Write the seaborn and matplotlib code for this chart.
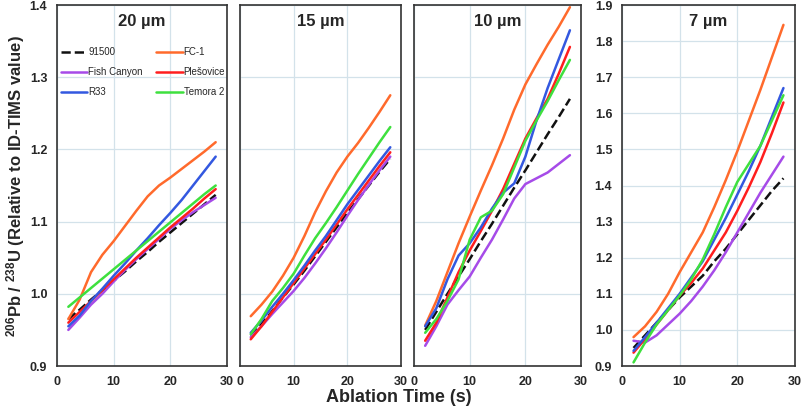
import matplotlib
matplotlib.use("Agg")
import matplotlib.pyplot as plt
import seaborn as sns
import pandas as pd

# Ablation time points (s)
time_s = [2, 4, 6, 8, 10, 12, 14, 16, 18, 20, 22, 24, 26, 28]

samples = ["91500", "FC-1", "Fish Canyon", "Plešovice", "R33", "Temora 2"]
panel_titles = ["20 µm", "15 µm", "10 µm", "7 µm"]

# 20 um spot
spot20_91500 = [0.965, 0.978, 0.992, 1.005, 1.018, 1.031, 1.045, 1.058, 1.072, 1.085, 1.098, 1.111, 1.124, 1.137]
spot20_fc1 = [0.965, 0.992, 1.030, 1.054, 1.073, 1.094, 1.115, 1.135, 1.150, 1.161, 1.173, 1.185, 1.197, 1.210]
spot20_fish = [0.950, 0.967, 0.985, 1.000, 1.017, 1.033, 1.048, 1.062, 1.076, 1.090, 1.102, 1.113, 1.123, 1.133]
spot20_ples = [0.960, 0.975, 0.990, 1.005, 1.020, 1.035, 1.050, 1.064, 1.078, 1.092, 1.105, 1.118, 1.132, 1.145]
spot20_r33 = [0.955, 0.970, 0.990, 1.007, 1.025, 1.042, 1.060, 1.077, 1.095, 1.112, 1.130, 1.150, 1.170, 1.190]
spot20_temora = [0.982, 0.995, 1.008, 1.021, 1.034, 1.047, 1.060, 1.073, 1.086, 1.099, 1.112, 1.125, 1.138, 1.150]

# 15 um spot
spot15_91500 = [0.942, 0.958, 0.976, 0.995, 1.013, 1.032, 1.052, 1.072, 1.092, 1.112, 1.131, 1.150, 1.169, 1.187]
spot15_fc1 = [0.969, 0.985, 1.003, 1.025, 1.050, 1.080, 1.113, 1.142, 1.168, 1.190, 1.209, 1.230, 1.252, 1.275]
spot15_fish = [0.940, 0.955, 0.972, 0.988, 1.004, 1.022, 1.042, 1.063, 1.085, 1.108, 1.130, 1.151, 1.171, 1.190]
spot15_ples = [0.937, 0.955, 0.975, 0.995, 1.015, 1.035, 1.055, 1.075, 1.096, 1.117, 1.137, 1.157, 1.177, 1.196]
spot15_r33 = [0.946, 0.963, 0.982, 1.000, 1.019, 1.039, 1.060, 1.080, 1.102, 1.124, 1.144, 1.164, 1.184, 1.203]
spot15_temora = [0.944, 0.965, 0.990, 1.008, 1.028, 1.053, 1.077, 1.098, 1.120, 1.143, 1.166, 1.188, 1.210, 1.231]

# 10 um spot
spot10_91500 = [0.950, 0.975, 1.000, 1.024, 1.048, 1.073, 1.097, 1.122, 1.147, 1.171, 1.196, 1.221, 1.245, 1.270]
spot10_fc1 = [0.956, 0.990, 1.030, 1.070, 1.107, 1.143, 1.178, 1.215, 1.255, 1.290, 1.318, 1.345, 1.370, 1.397]
spot10_fish = [0.928, 0.955, 0.985, 1.005, 1.024, 1.050, 1.075, 1.103, 1.132, 1.152, 1.160, 1.168, 1.180, 1.192]
spot10_ples = [0.935, 0.960, 0.995, 1.030, 1.060, 1.087, 1.115, 1.145, 1.180, 1.215, 1.243, 1.270, 1.305, 1.342]
spot10_r33 = [0.955, 0.980, 1.020, 1.053, 1.070, 1.092, 1.118, 1.140, 1.153, 1.190, 1.240, 1.285, 1.325, 1.365]
spot10_temora = [0.946, 0.965, 0.990, 1.020, 1.075, 1.106, 1.115, 1.138, 1.175, 1.212, 1.240, 1.267, 1.296, 1.324]

# 7 um spot
spot7_91500 = [0.950, 0.985, 1.020, 1.055, 1.090, 1.120, 1.150, 1.190, 1.225, 1.265, 1.305, 1.345, 1.385, 1.420]
spot7_fc1 = [0.980, 1.010, 1.050, 1.100, 1.160, 1.215, 1.270, 1.340, 1.415, 1.495, 1.580, 1.665, 1.755, 1.845]
spot7_fish = [0.970, 0.965, 0.985, 1.015, 1.045, 1.080, 1.120, 1.165, 1.215, 1.270, 1.325, 1.380, 1.430, 1.480]
spot7_ples = [0.937, 0.975, 1.015, 1.055, 1.095, 1.130, 1.170, 1.220, 1.270, 1.330, 1.395, 1.465, 1.545, 1.630]
spot7_r33 = [0.942, 0.980, 1.020, 1.060, 1.100, 1.145, 1.190, 1.250, 1.310, 1.375, 1.440, 1.510, 1.590, 1.670]
spot7_temora = [0.910, 0.965, 1.015, 1.055, 1.095, 1.140, 1.195, 1.265, 1.340, 1.410, 1.460, 1.510, 1.580, 1.650]

panel_data = [
    [spot20_91500, spot20_fc1, spot20_fish, spot20_ples, spot20_r33, spot20_temora],
    [spot15_91500, spot15_fc1, spot15_fish, spot15_ples, spot15_r33, spot15_temora],
    [spot10_91500, spot10_fc1, spot10_fish, spot10_ples, spot10_r33, spot10_temora],
    [spot7_91500, spot7_fc1, spot7_fish, spot7_ples, spot7_r33, spot7_temora],
]

colors = {
    "91500": "#111111",
    "FC-1": "#FF6A2C",
    "Fish Canyon": "#A64BE8",
    "Plešovice": "#FF1E1E",
    "R33": "#3358E0",
    "Temora 2": "#3EE03E",
}

sns.set_style("white")
plt.rcParams["font.family"] = ["Liberation Sans", "DejaVu Sans"]
plt.rcParams["mathtext.fontset"] = "custom"
plt.rcParams["mathtext.bf"] = "Liberation Sans:bold"
plt.rcParams["mathtext.rm"] = "Liberation Sans:bold"
plt.rcParams["mathtext.default"] = "bf"

fig = plt.figure(figsize=(8.03, 4.18), dpi=100)
bottom, height = 0.1244, 0.8636
positions = [
    [0.0710, bottom, 0.2117, height],
    [0.2989, bottom, 0.2005, height],
    [0.5156, bottom, 0.2080, height],
    [0.7746, bottom, 0.2154, height],
]
xlims = [(0, 30), (1.6, 30), (0.5, 30), (0, 30)]
ylims = [(0.9, 1.4), (0.9, 1.4), (0.9, 1.4), (0.9, 1.9)]

for i, pos in enumerate(positions):
    ax = fig.add_axes(pos, zorder=5 if i == 0 else 1)
    df = pd.DataFrame({"time": time_s * len(samples),
                       "ratio": sum(panel_data[i], []),
                       "sample": [s for s in samples for _ in time_s]})
    for s in samples:
        sub = df[df["sample"] == s]
        sns.lineplot(data=sub, x="time", y="ratio", ax=ax, color=colors[s],
                     linewidth=1.8, linestyle="--" if s == "91500" else "-",
                     label=s, legend=False)
    ax.set_xlim(*xlims[i])
    ax.set_ylim(*ylims[i])
    ax.set_xticks([0, 10, 20, 30])
    if i == 3:
        ax.set_yticks([0.9, 1.0, 1.1, 1.2, 1.3, 1.4, 1.5, 1.6, 1.7, 1.8, 1.9])
    else:
        ax.set_yticks([0.9, 1.0, 1.1, 1.2, 1.3, 1.4])
    ax.grid(True, color="#D3E2EA", linewidth=0.9)
    ax.set_axisbelow(True)
    ax.tick_params(axis="both", length=0, labelsize=9, pad=7)
    for lab in ax.get_xticklabels() + ax.get_yticklabels():
        lab.set_fontweight("bold")
    if i in (1, 2):
        ax.set_yticklabels([])
    ax.set_xlabel("")
    ax.set_ylabel("")
    for sp in ax.spines.values():
        sp.set_color("#333333")
        sp.set_linewidth(1.2)
    ax.text(0.5, 0.953, panel_titles[i], transform=ax.transAxes,
            ha="center", va="center", fontsize=12, fontweight="bold")
    if i == 0:
        h, l = ax.get_legend_handles_labels()
        order = [0, 2, 4, 1, 3, 5]
        ax.legend([h[k] for k in order], [l[k] for k in order], ncol=2,
                  loc="upper left", bbox_to_anchor=(-0.01, 0.90), frameon=False,
                  fontsize=7, handlelength=2.7, handletextpad=0.1,
                  columnspacing=1.4, labelspacing=1.05, borderaxespad=0.2)

fig.text(0.497, 0.05, "Ablation Time (s)", ha="center", va="center",
         fontsize=13, fontweight="bold")
fig.text(0.019, 0.555, r"$^{206}$Pb / $^{238}$U (Relative to ID-TIMS value)",
         rotation=90, ha="center", va="center", fontsize=12, fontweight="bold")

plt.savefig("out.png", dpi=100)
